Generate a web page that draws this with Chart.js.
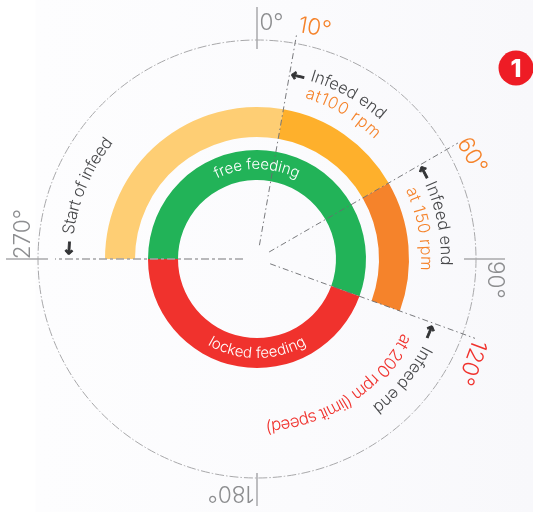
<!DOCTYPE html>
<html>
<head>
<meta charset="utf-8">
<title>Infeed timing</title>
<script src="https://cdn.jsdelivr.net/npm/chart.js@4"></script>
<style>
  html, body { margin: 0; padding: 0; }
  body {
    width: 533px; height: 512px; overflow: hidden; position: relative;
    background: linear-gradient(90deg, #fff 0, #fff 35px, #fdfdfe 36px, #fbfbfd 300px, #f8f8fb 533px);
  }
  canvas, svg { position: absolute; left: 0; top: 0; }
  svg text { font-family: Inter, Lato, sans-serif; font-weight: 300; }
</style>
</head>
<body>
<canvas id="chart-1" width="533" height="512"></canvas>
<svg id="labels" width="533" height="512" xmlns="http://www.w3.org/2000/svg"></svg>
<script>
// Ring spans in degrees, clockwise from 270°
const infeedLabels = ["Start to 10°", "10° to 60°", "60° to 110°", "not used"];
const infeedSpans = [100, 50, 50, 160];
const infeedColors = ["#fece74", "#feb02c", "#f5832b", "transparent"];

const feedLabels = ["free feeding", "locked feeding"];
const feedSpans = [200, 160];
const feedColors = ["#22b358", "#f0322d"];

// Dash-dot guides: [angle, from radius, to radius]
const guides = [[10, 14, 230], [60, 14, 232], [110, 14, 232]];
const startGuide = [270, 14, 202];

// Tick marks on the outer circle: [angle, from radius, to radius]
const ticks = [[0, 210, 252], [90, 207, 248], [180, 214, 247], [270, 209, 251]];

// Rotated degree labels: text, angle, radius, rotation, colour
const degreeLabels = [
  ["0°", 3.5, 238, 0, "#8d8e90"],
  ["10°", 14, 240, 10, "#f5832b"],
  ["60°", 64.3, 240, 60, "#f5832b"],
  ["90°", 95, 240, 90, "#8d8e90"],
  ["120°", 115.7, 240, 110, "#f0322d"],
  ["180°", 186.3, 237, 180, "#8d8e90"],
  ["270°", 276, 237, -90, "#8d8e90"],
];

// Text along the circle: text, radius, start angle, end angle, colour, size
const arcLabels = [
  ["free feeding", 90, -26.5, 26.5, "#ffffff", 15],
  ["locked feeding", 99, 210, 150, "#ffffff", 15],
  ["Start of infeed", 185, 277.5, 309, "#47484a", 16.5],
  ["Infeed end", 186, 16.5, 41.6, "#47484a", 16.5],
  ["at100 rpm", 168, 16.5, 44.5, "#f5832b", 16.5],
  ["Infeed end", 184, 66, 92, "#47484a", 16.5],
  ["at 150 rpm", 164, 65, 94, "#f5832b", 16.5],
  ["Infeed end", 187, 117.5, 142, "#47484a", 16.5],
  ["at 200 rpm (limit speed)", 163, 117, 177, "#f0322d", 17],
];

// Little arrows pointing back along the circle: angle, radius
const arrows = [
  [273.3, 189],
  [12.6, 188],
  [62.6, 189],
  [112.9, 188],
];

const svgNS = "http://www.w3.org/2000/svg";
const rad = (deg) => ((deg - 90) * Math.PI) / 180;
const polar = (c, deg, r) => ({ x: c.x + r * Math.cos(rad(deg)), y: c.y + r * Math.sin(rad(deg)) });

let addText = (svg, text, x, y, rotation, color, size, weight) => {
  let el = document.createElementNS(svgNS, "text");
  el.textContent = text;
  el.setAttribute("text-anchor", "middle");
  el.setAttribute("dominant-baseline", "central");
  el.setAttribute("transform", `translate(${x} ${y}) rotate(${rotation})`);
  el.setAttribute("fill", color);
  el.setAttribute("font-size", size);
  if (weight) el.style.fontWeight = weight;
  svg.appendChild(el);
  return el;
};

let addArcText = (svg, c, row, index) => {
  let [text, r, a0, a1, color, size] = row;
  let dir = a1 > a0 ? 1 : -1;
  let from = polar(c, a0, r);
  let to = polar(c, a1 + dir * 15, r);
  let path = document.createElementNS(svgNS, "path");
  path.setAttribute("id", "arc-" + index);
  path.setAttribute("fill", "none");
  path.setAttribute("d", `M ${from.x} ${from.y} A ${r} ${r} 0 0 ${dir > 0 ? 1 : 0} ${to.x} ${to.y}`);
  svg.appendChild(path);
  let el = document.createElementNS(svgNS, "text");
  el.setAttribute("fill", color);
  el.setAttribute("font-size", size);
  let tp = document.createElementNS(svgNS, "textPath");
  tp.setAttribute("href", "#arc-" + index);
  tp.setAttribute("textLength", (Math.abs(a1 - a0) * Math.PI * r) / 180);
  tp.textContent = text;
  el.appendChild(tp);
  svg.appendChild(el);
};

// Guides go over the rings, so they are drawn after the datasets
const guidesPlugin = {
  id: "guides",
  afterDatasetsDraw(chart) {
    let arc = chart.getDatasetMeta(0).data[0];
    let c = { x: arc.x, y: arc.y };
    let ctx = chart.ctx;
    ctx.save();

    ctx.strokeStyle = "#a8a8aa";
    ctx.lineWidth = 1;
    ctx.setLineDash([9, 2, 1.5, 2]);
    ctx.beginPath();
    ctx.arc(c.x, c.y, 219, 0, Math.PI * 2);
    ctx.stroke();

    ctx.strokeStyle = "#6a6b6e";
    ctx.lineWidth = 0.9;
    ctx.setLineDash([6, 3, 1.5, 3]);
    guides.forEach(([deg, r0, r1]) => {
      let a = polar(c, deg, r0);
      let b = polar(c, deg, r1);
      ctx.beginPath();
      ctx.moveTo(a.x, a.y);
      ctx.lineTo(b.x, b.y);
      ctx.stroke();
    });

    ctx.strokeStyle = "#a3a3a5";
    ctx.lineWidth = 1.6;
    ctx.setLineDash([8, 3, 3, 3]);
    let a = polar(c, startGuide[0], startGuide[1]);
    let b = polar(c, startGuide[0], startGuide[2]);
    ctx.beginPath();
    ctx.moveTo(a.x, a.y);
    ctx.lineTo(b.x, b.y);
    ctx.stroke();

    ctx.strokeStyle = "#a9a9ab";
    ctx.lineWidth = 1.5;
    ctx.setLineDash([]);
    ticks.forEach(([deg, r0, r1]) => {
      let p = polar(c, deg, r0);
      let q = polar(c, deg, r1);
      ctx.beginPath();
      ctx.moveTo(p.x, p.y);
      ctx.lineTo(q.x, q.y);
      ctx.stroke();
    });

    // Badge in the corner
    ctx.fillStyle = "#ee1c25";
    ctx.beginPath();
    ctx.arc(516, 68, 17.5, 0, Math.PI * 2);
    ctx.fill();
    ctx.restore();

    let svg = document.getElementById("labels");
    if (svg.childNodes.length) return;
    degreeLabels.forEach(([text, deg, r, rotation, color]) => {
      let p = polar(c, deg, r);
      addText(svg, text, p.x, p.y, rotation, color, 22.5);
    });
    arcLabels.forEach((row, i) => addArcText(svg, c, row, i));
    arrows.forEach(([deg, r]) => {
      let p = polar(c, deg, r);
      let el = addText(svg, "←", p.x, p.y, deg, "#333436", 17, 700);
      el.style.fontFamily = '"DejaVu Sans", sans-serif';
      el.setAttribute("stroke", "#333436");
      el.setAttribute("stroke-width", "0.9");
    });
    addText(svg, "1", 516, 68, 0, "#ffffff", 25, 800);
  },
};

const ctx1 = document.getElementById("chart-1");
const myChart1 = new Chart(ctx1, {
  type: "doughnut",
  data: {
    labels: infeedLabels,
    datasets: [
      { data: infeedSpans, backgroundColor: infeedColors, borderWidth: 0, weight: 30 },
      { data: [360], backgroundColor: ["transparent"], borderWidth: 0, weight: 13 },
      { data: feedSpans, backgroundColor: feedColors, borderWidth: 0, weight: 30 },
    ],
  },
  options: {
    responsive: false,
    animation: false,
    rotation: -90,
    radius: 152,
    cutout: (79 / 152) * 100 + "%",
    layout: { padding: { left: 0, right: 19, top: 6, bottom: 0 } },
    plugins: {
      legend: { display: false },
      tooltip: { enabled: false },
    },
  },
  plugins: [guidesPlugin],
});
</script>
</body>
</html>
